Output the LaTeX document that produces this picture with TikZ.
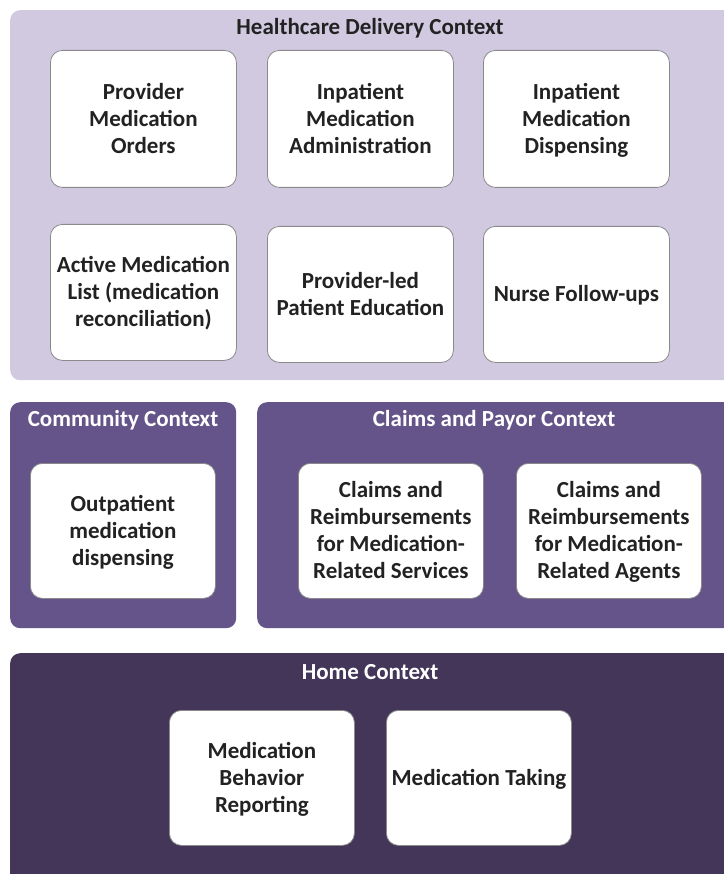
\documentclass[tikz,border=0pt]{standalone}
\usepackage{fontspec}
\setmainfont{Carlito}
\definecolor{lightctx}{HTML}{D1C9E0}
\definecolor{midctx}{HTML}{645489}
\definecolor{darkctx}{HTML}{433659}
\definecolor{boxtext}{HTML}{222222}
\definecolor{boxedge}{HTML}{8A8A8A}
\newcommand{\itemtop}{\rule{0pt}{21pt}}
\newcommand{\itembot}{\rule[-6pt]{0pt}{6pt}}
\tikzset{
  ctx/.style={anchor=north west, inner sep=0pt, rounded corners=10pt},
  ctxtitle/.style={font=\fontsize{23}{27}\selectfont\bfseries, inner sep=0pt},
  item/.style={anchor=north west, fill=white, draw=boxedge, line width=0.8pt,
    rounded corners=12pt, inner sep=0pt, align=center, text=boxtext,
    font=\fontsize{23}{27}\selectfont\bfseries},
}
\begin{document}
\begin{tikzpicture}[x=1pt,y=-1pt]
\useasboundingbox (0,0) rectangle (723,874);
\fill[white] (0,0) rectangle (723,874);
% contexts
\node[ctx, fill=lightctx, minimum width=725pt, minimum height=370pt] (hc) at (10,10) {};
\node[ctx, fill=midctx, minimum width=226pt, minimum height=226pt] (cc) at (10,402) {};
\node[ctx, fill=midctx, minimum width=480pt, minimum height=226pt] (cp) at (257,402) {};
\node[ctx, fill=darkctx, minimum width=725pt, minimum height=240pt] (hm) at (10,653) {};
% titles
\node[ctxtitle, text=boxtext] (hct) at (370,28) {Healthcare Delivery Context};
\node[ctxtitle, text=white] (cct) at (123,420) {Community Context};
\node[ctxtitle, text=white] (cpt) at (494,420) {Claims and Payor Context};
\node[ctxtitle, text=white] (hmt) at (370,672) {Home Context};
% healthcare items
\node[item, minimum width=186pt, minimum height=137pt] (pmo) at (50,50) {\itemtop Provider\\Medication\\Orders\itembot};
\node[item, minimum width=186pt, minimum height=137pt] (ima) at (267,50) {\itemtop Inpatient\\Medication\\Administration\itembot};
\node[item, minimum width=186pt, minimum height=137pt] (imd) at (483,50) {\itemtop Inpatient\\Medication\\Dispensing\itembot};
\node[item, minimum width=186pt, minimum height=136pt] (aml) at (50,224) {\itemtop Active Medication\\List (medication\\reconciliation)\itembot};
\node[item, minimum width=186pt, minimum height=136pt] (ple) at (267,226) {\itemtop Provider-led\\Patient Education\itembot};
\node[item, minimum width=186pt, minimum height=136pt] (nfu) at (483,226) {\itemtop Nurse Follow-ups\itembot};
% community
\node[item, minimum width=185pt, minimum height=135pt] (omd) at (30,463) {\itemtop Outpatient\\medication\\dispensing\itembot};
% claims
\node[item, minimum width=185pt, minimum height=135pt] (crs) at (298,463) {\itemtop Claims and\\Reimbursements\\for Medication-\\Related Services\itembot};
\node[item, minimum width=185pt, minimum height=135pt] (cra) at (516,463) {\itemtop Claims and\\Reimbursements\\for Medication-\\Related Agents\itembot};
% home
\node[item, minimum width=185pt, minimum height=135pt] (mbr) at (169,710) {\itemtop Medication\\Behavior\\Reporting\itembot};
\node[item, minimum width=185pt, minimum height=135pt] (mtk) at (386,710) {\itemtop Medication Taking\itembot};
\end{tikzpicture}
\end{document}
